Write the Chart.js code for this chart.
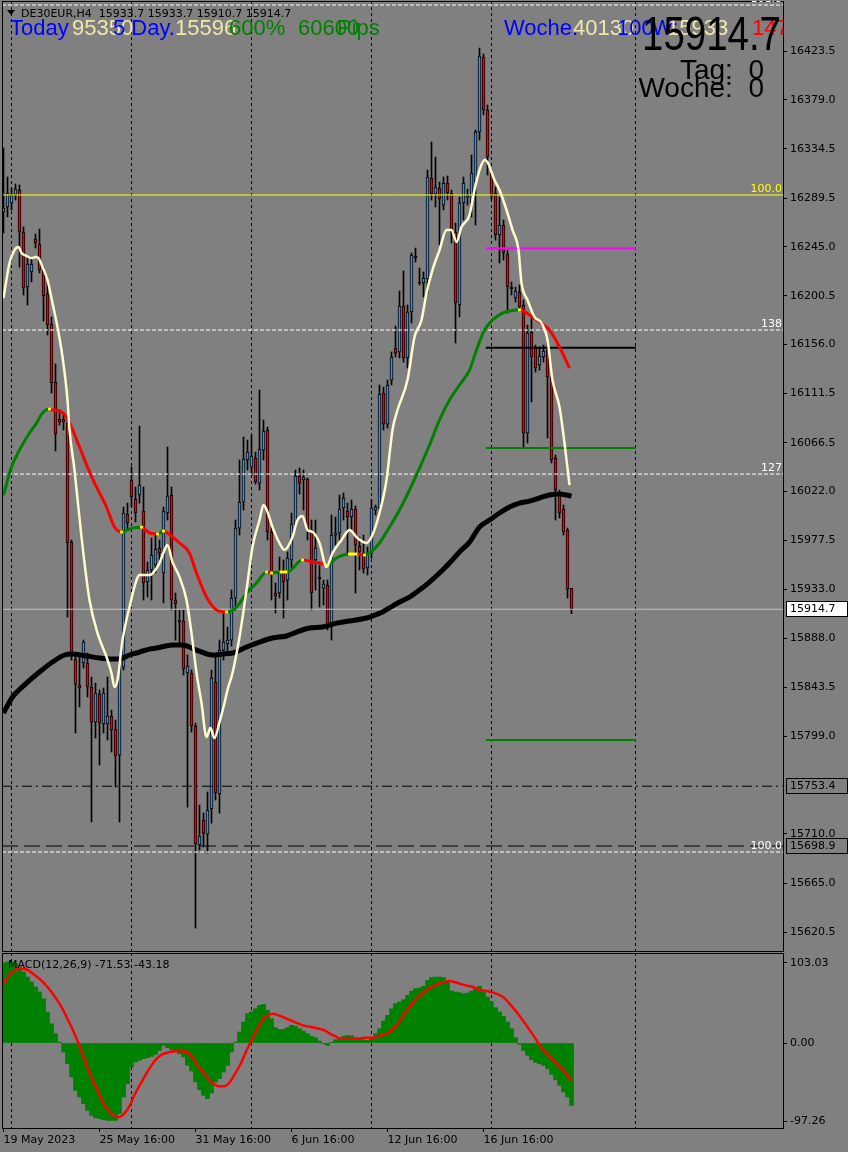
<!DOCTYPE html>
<html>
<head>
<meta charset="utf-8">
<title>DE30EUR,H4</title>
<script src="https://cdn.jsdelivr.net/npm/chart.js@4.4.1/dist/chart.umd.min.js"></script>
<style>
  html, body { margin: 0; padding: 0; background: #808080; }
  #wrap { position: relative; width: 848px; height: 1152px; overflow: hidden; }
  canvas { position: absolute; left: 0; }
  #main { top: 0; }
  #macd { top: 952px; }
</style>
</head>
<body>
<div id="wrap">
  <canvas id="main" width="848" height="952"></canvas>
  <canvas id="macd" width="848" height="200"></canvas>
</div>
<script>
// ---- candles (H4 bars, index 0 = 19 May 16:00) ----
const barOpen = [
  16276.8,16281.3,16285.0,16292.3,16296.8,16258.5,16208.4,16222.1,16252.2,16247.6,
  16223.9,16202.0,16174.7,16121.8,16088.1,16088.1,16084.4,15976.0,15869.3,15845.6,
  15865.7,15865.7,15843.8,15811.8,15837.4,15810.1,15810.1,15817.3,15805.5,15781.8,
  15862.0,16001.5,16032.5,16015.2,16018.8,16004.2,15939.5,15950.5,15955.0,15970.5,
  15947.7,16002.4,16018.8,15923.1,15904.9,15904.0,15856.6,15856.6,15808.2,15699.8,
  15722.6,15709.8,15732.6,15848.3,15746.3,15877.5,15883.0,15886.6,15924.9,15988.7,
  16012.4,16050.7,16044.3,16052.5,16029.7,16059.8,16078.1,15985.1,15929.5,15929.5,
  15950.5,15941.3,15959.6,15992.4,16036.1,16032.5,16033.4,15986.9,15959.6,15944.1,
  15934.0,15936.8,15900.3,15982.3,15984.2,16007.0,16004.2,15998.8,16006.0,15972.3,
  15965.9,15952.3,15965.9,16005.1,16007.0,16111.8,16083.5,16123.6,16152.8,16149.2,
  16191.1,16143.7,16185.6,16236.7,16213.0,16212.1,16215.7,16307.8,16293.2,16298.6,
  16283.1,16303.2,16294.1,16258.5,16192.0,16285.0,16290.4,16285.0,16304.1,16349.7,
  16418.0,16369.7,16312.3,16294.1,16255.8,16264.9,16238.5,16208.4,16198.4,16203.8,
  16192.0,16075.3,16167.4,16152.8,16137.3,16144.6,16151.0,16126.4,16052.5,16020.6,
  16006.0,15986.9,15933.7];
const barHigh = [
  16335.1,16308.7,16298.6,16302.3,16301.4,16263.1,16235.7,16235.7,16256.7,16261.3,
  16226.6,16213.0,16181.1,16138.2,16096.3,16093.6,16089.0,15977.8,15874.8,15874.8,
  15886.6,15874.8,15852.9,15847.4,15841.1,15842.9,15852.9,15822.8,15813.7,15868.4,
  16007.9,16011.5,16044.3,16026.1,16081.7,16026.1,15957.7,15979.6,15984.2,15977.8,
  16007.9,16062.6,16026.1,15929.5,15914.0,15914.0,15873.0,15859.3,15810.9,15736.2,
  15728.9,15748.1,15859.3,15871.2,15886.6,15912.2,15898.5,15932.2,15996.0,16050.7,
  16071.7,16068.9,16073.5,16058.0,16114.5,16087.2,16080.8,15989.6,15938.6,15962.3,
  15959.6,15966.9,16002.4,16041.6,16043.4,16041.6,16034.3,15996.0,15996.0,15955.0,
  15941.3,15941.3,16000.6,15998.8,16018.8,16020.6,16011.5,16014.3,16008.8,15980.5,
  15982.3,15971.4,16014.3,16009.7,16119.1,16117.2,16123.6,16149.2,16172.9,16204.8,
  16223.0,16192.0,16239.4,16243.9,16225.7,16222.1,16315.0,16340.6,16326.9,16304.1,
  16308.7,16309.6,16296.8,16266.7,16290.4,16308.7,16297.7,16328.7,16351.5,16426.2,
  16420.8,16374.3,16315.0,16299.5,16290.4,16269.5,16242.1,16213.0,16208.4,16210.3,
  16196.6,16173.8,16181.1,16155.5,16153.7,16155.5,16157.4,16130.9,16055.3,16023.4,
  16009.7,15988.7,15933.7];
const barLow = [
  16257.6,16272.2,16278.6,16287.7,16226.6,16201.1,16192.0,16213.0,16243.9,16221.2,
  16177.4,16164.7,16111.8,16058.9,16082.6,16078.1,15907.6,15868.4,15801.9,15825.6,
  15861.1,15834.7,15720.8,15797.3,15772.7,15801.9,15795.5,15784.6,15752.7,15720.8,
  15859.3,15986.9,16007.9,15994.2,16011.5,15923.1,15925.8,15923.1,15947.7,15959.6,
  15920.4,15996.0,15914.0,15886.6,15883.9,15854.7,15734.4,15802.8,15624.1,15695.2,
  15698.0,15692.5,15719.8,15740.8,15728.9,15868.4,15873.0,15881.2,15914.0,15982.3,
  16005.1,16041.6,16037.0,16028.8,16023.4,16050.7,15977.8,15923.1,15911.3,15924.9,
  15906.7,15923.1,15950.5,15988.7,16019.7,16005.1,15977.8,15914.0,15932.2,15916.7,
  15918.6,15895.8,15886.6,15973.2,15977.8,15996.0,15964.1,15986.9,15929.5,15950.5,
  15947.7,15945.9,15961.4,16000.6,16003.3,16078.1,16079.9,16119.1,16144.6,16143.7,
  16140.0,16134.6,16175.6,16231.2,16210.3,16199.3,16202.9,16287.7,16281.3,16246.7,
  16278.6,16287.7,16248.5,16157.4,16181.1,16269.5,16283.1,16272.2,16264.9,16342.4,
  16365.2,16310.5,16287.7,16251.2,16230.3,16233.0,16184.7,16201.1,16194.7,16187.4,
  16062.6,16066.2,16103.6,16130.9,16132.7,16140.0,16070.8,16048.0,15996.0,15997.8,
  15982.3,15924.9,15910.7];
const barClose = [
  16280.4,16294.1,16292.3,16297.7,16258.5,16207.5,16229.4,16229.4,16248.5,16223.9,
  16200.2,16173.8,16120.9,16074.4,16085.3,16085.3,15975.1,15874.8,15846.5,15842.9,
  15884.8,15843.8,15811.8,15838.3,15810.9,15838.3,15817.3,15804.6,15780.9,15862.0,
  16002.4,15993.3,16017.0,16002.4,16027.9,15938.6,15950.5,15964.1,15969.6,15965.9,
  16004.2,16017.9,15923.1,15919.5,15903.0,15860.2,15863.0,15808.2,15700.7,15708.0,
  15710.7,15731.7,15852.0,15747.2,15877.5,15884.8,15886.6,15924.9,15988.7,16012.4,
  16051.6,16058.0,16054.4,16030.7,16060.7,16077.1,15985.1,15947.7,15926.7,15947.7,
  15939.5,15961.4,15992.4,16036.1,16029.7,16035.2,15986.9,15929.5,15970.5,15942.3,
  15937.7,15900.3,15982.3,15984.2,16006.0,16016.1,15998.8,16006.0,15973.2,15966.9,
  15951.4,15965.9,16007.0,16007.9,16110.9,16083.5,16119.1,16144.6,16148.2,16191.1,
  16143.7,16185.6,16237.6,16234.8,16212.1,16216.6,16308.7,16293.2,16299.5,16288.6,
  16303.2,16294.1,16258.5,16193.8,16285.0,16303.2,16292.3,16312.3,16349.7,16419.0,
  16369.7,16326.9,16291.3,16255.8,16264.9,16239.4,16208.4,16206.6,16204.8,16190.2,
  16075.3,16166.5,16144.6,16134.6,16145.5,16150.1,16126.4,16050.7,16023.4,16002.4,
  15985.1,15933.1,15914.7];

// ---- moving averages (bar position, price) ----
const fastMaBar = [0,1.5,2.75,3.75,4.5,5.75,7,8,8.75,9.75,11,12.25,13.5,14.75,16,16.5,17.75,19.5,21.5,23.5,
  25.75,27,27.75,28.5,29.75,31.5,33.25,34,36.5,39,40.25,41,42.25,44,45.75,47,48.25,49.5,50.75,51.75,
  52.75,54,55.25,56,57.25,59,60.75,62.25,64,65,66,67.25,69,70.25,72.25,73.5,74.75,76,77.25,79,
  80.75,82.25,84.5,86.5,88.5,90.75,92,94,95.75,97.25,98.5,101,102.75,104.5,105.75,107.25,109,110.75,112,113.25,
  114.5,116.5,117.75,119,120.25,121,122.75,124,125.75,127.25,128.75,129.5,131,132.75,134.5,136,137.25,139,140.25,141.5];
const fastMaPrice = [16198.4,16230.3,16242.1,16244.9,16239.4,16236.7,16234.8,16235.7,16234.8,16226.6,
  16214.8,16193.8,16171.9,16144.6,16105.4,16078.1,16041.6,15980.5,15923.1,15893.0,
  15871.2,15856.6,15843.8,15850.2,15886.6,15916.7,15941.3,15945.9,15945.9,15956.8,
  15968.7,15973.2,15957.7,15944.1,15923.1,15893.0,15856.6,15829.2,15798.2,15806.4,
  15797.3,15811.8,15829.2,15841.1,15856.6,15889.4,15932.2,15971.4,15996.0,16009.7,
  16003.3,15989.6,15975.1,15968.7,15980.5,15996.0,15999.7,15986.9,15985.1,15975.1,
  15953.2,15965.9,15977.8,15986.9,15979.6,15975.1,15980.5,16002.4,16032.5,16078.1,
  16096.3,16123.6,16162.8,16178.3,16202.9,16223.9,16242.1,16260.4,16260.4,16249.4,
  16263.1,16274.0,16296.8,16315.0,16324.2,16322.3,16305.9,16296.8,16278.6,16260.4,
  16242.1,16212.1,16196.6,16181.1,16175.6,16160.1,16123.6,16099.0,16066.2,16027.9];

const midMaBar = [0,2,4,6.5,8.25,9.75,11.5,12.25,14,15.75,17,19,21,23.25,25.75,27.75,29.5,32.25,34.5,36.5,
  38.5,40,41,44,46.5,48.25,50.75,53.25,55.75,58.25,60.75,63.25,65.75,67,69,71,74.75,77.25,79,81,
  83.25,86.5,88.5,90.25,91.5,94,96.5,99,101.5,104,106.5,109,111.5,114,116.5,118.25,120.25,122.25,124.75,127.25,
  129,131.5,134,136.5,139,141.5];
const midMaPrice = [16018.8,16044.3,16059.8,16075.3,16084.4,16093.6,16097.2,16096.3,16095.4,16089.9,
  16080.8,16062.6,16044.3,16026.1,16007.9,15989.6,15985.1,15988.7,15989.5,15984.2,
  15983.3,15986.0,15984.2,15975.1,15965.9,15947.7,15925.8,15914.0,15912.2,15916.7,
  15929.5,15938.6,15948.6,15947.7,15948.6,15948.8,15959.6,15957.7,15956.8,15955.0,
  15961.4,15965.0,15965.0,15964.1,15965.9,15975.1,15989.6,16005.1,16023.4,16043.4,
  16064.4,16087.2,16105.4,16119.1,16132.7,16151.0,16169.2,16178.3,16184.7,16187.0,
  16187.6,16182.9,16176.5,16169.2,16153.7,16134.6];

const slowMaBar = [0,2.25,5.75,9,12.25,15.25,17,20.75,24,27.25,29,31.5,34,36.5,38.25,42.25,44.75,48.25,52.25,54.75,
  57.25,60.75,64,67.25,70.75,73.25,76.5,79.75,83.25,86.5,90.75,92.25,94.75,97.25,99,101.5,104,106.5,109,111.5,
  114,116.5,119,121.5,124,126.5,129,131.5,134,136.5,139,140.75,142];
const slowMaPrice = [15820.1,15834.7,15847.4,15857.5,15866.6,15873.0,15873.9,15872.1,15870.2,15869.3,
  15869.3,15873.0,15875.7,15878.4,15879.3,15882.1,15882.1,15877.5,15873.0,15873.9,
  15874.8,15880.3,15884.8,15888.5,15890.3,15893.9,15897.6,15898.5,15902.1,15904.0,
  15906.7,15908.5,15912.2,15917.6,15921.3,15925.8,15932.2,15939.5,15947.7,15956.8,
  15966.9,15975.9,15989.6,15996.0,16002.4,16007.9,16011.5,16013.3,16016.1,16018.8,
  16019.7,16018.8,16017.9];

// ---- horizontal levels ----
const fibLevelPrices = [16465.4, 16292.3, 16169.2, 16037.9, 15693.4];
const fibLevelLabels = ['161.8', '100.0', '138', '127', '100.0'];
const bidPrice = 15914.7;
const dashDotPrice = 15753.4;
const dashPrice = 15698.9;
const targetPrices = [16243.7, 16153.1, 16061.7, 15795.5];
const targetFromBar = 120.6, targetToBar = 158.1;

// ---- axes ----
const priceTicks = [16423.5,16379.0,16334.5,16289.5,16245.0,16200.5,16156.0,16111.5,16066.5,
  16022.0,15977.5,15933.0,15888.0,15843.5,15799.0,15710.0,15665.0,15620.5];
const timeTickBars = [0, 24, 48, 72, 96, 120];
const timeTickLabels = ['19 May 2023', '25 May 16:00', '31 May 16:00', '6 Jun 16:00', '12 Jun 16:00', '16 Jun 16:00'];
const weekGridBars = [2, 32, 62, 92, 122, 158];

// ---- MACD(12,26,9) ----
const macdHist = [91.6,92.7,92.7,90.8,87.0,81.3,75.5,69.8,64.1,58.4,
  50.7,35.5,22.1,10.7,1.1,-10.3,-23.7,-38.9,-54.2,-61.8,
  -69.4,-77.1,-82.8,-85.5,-86.6,-87.7,-88.5,-88.5,-88.5,-80.9,
  -61.8,-46.5,-27.5,-21.7,-19.8,-17.9,-16.8,-15.3,-13.0,-8.4,
  -2.7,-5.3,-7.6,-9.2,-12.2,-16.0,-25.6,-32.0,-44.6,-53.4,
  -59.9,-63.7,-57.2,-44.6,-40.8,-33.2,-25.6,-10.3,1.1,12.6,
  24.0,33.6,35.5,39.3,43.1,44.3,37.4,27.8,17.5,15.3,
  15.6,17.5,20.2,19.1,16.4,13.7,10.7,7.6,6.1,2.3,
  -0.8,-2.7,0.8,3.8,6.1,7.6,8.8,8.4,6.1,5.0,
  3.8,3.1,4.6,10.7,16.4,25.2,31.7,39.3,45.0,46.9,
  49.6,54.6,59.5,62.2,62.9,64.9,71.7,74.8,75.5,75.5,
  74.8,69.8,59.5,58.4,57.6,56.5,57.2,59.5,63.3,64.9,
  58.4,52.6,46.9,40.4,35.5,30.5,24.0,16.4,6.1,-1.5,
  -8.4,-14.1,-19.1,-22.1,-23.7,-25.6,-29.4,-35.9,-42.0,-48.4,
  -56.1,-61.8,-71.53];
const macdSigBar = [0,1.8,3.9,5.9,7.9,9.9,12.0,14.0,16.0,18.1,19.4,20.8,22.1,23.5,24.8,26.2,27.5,28.9,30.2,31.6,
  32.9,34.3,35.6,37.0,38.3,39.7,41.7,43.7,45.8,47.1,48.5,49.8,51.2,52.5,53.9,55.2,56.6,57.9,59.3,60.6,
  62.0,63.3,64.7,66.1,67.4,68.8,70.8,72.8,74.8,76.9,78.9,80.3,81.6,83.0,84.3,86.3,88.4,90.4,92.4,94.5,
  96.5,97.8,99.2,100.5,101.9,103.2,104.6,105.9,107.3,109.3,111.4,112.7,114.1,115.4,117.4,118.8,120.8,122.8,124.9,126.9,
  128.9,131.0,133.0,134.3,136.3,138.4,140.4,142];
const macdSigVal = [67.9,79.4,85.1,83.9,77.4,69.8,58.4,45.0,27.8,6.9,-8.4,-25.6,-40.8,-54.2,-67.5,-77.1,-82.8,-84.7,-80.9,-71.3,
  -58.0,-46.5,-35.9,-25.6,-17.9,-13.0,-10.3,-9.2,-10.3,-16.0,-25.6,-33.2,-40.8,-46.5,-49.6,-49.6,-44.6,-35.1,-23.7,-10.3,
  3.1,14.5,25.9,31.7,33.6,31.7,27.8,24.0,20.2,18.3,16.4,14.5,10.7,7.6,5.0,5.0,5.0,6.1,6.1,8.8,
  12.6,18.3,25.9,35.5,43.1,50.7,56.5,61.0,64.9,68.7,71.0,69.8,67.9,66.0,64.1,61.0,59.5,57.2,52.6,43.1,
  31.7,18.3,5.0,-4.6,-14.1,-23.7,-33.2,-43.18];
const macdMin = -97.26, macdMax = 103.03;
const macdTickPos = [-89.3, 0, 91.6];
const macdTickLabels = ['-97.26', '0.00', '103.03'];

// ---- view range ----
const X_MIN = -0.375, X_MAX = 194.875;
const Y_MIN = 15603.2, Y_MAX = 16469.1;

const BULL = '#3C8FE0', BEAR = '#F00000';
const FONT = 'DejaVu Sans';
const last = barClose.length - 1;

const pts = (xs, ys) => xs.map((x, i) => ({ x: x, y: ys[i] }));
const hline = (p, x0, x1, color, width, dash, order) => ({
  type: 'line', data: [{ x: x0, y: p }, { x: x1, y: p }],
  borderColor: color, borderWidth: width, borderDash: dash || [],
  pointRadius: 0, fill: false, order: order
});
// fixed axis size, no automatic label padding
const fitTo = (w, h) => s => {
  if (w !== null) s.width = w;
  if (h !== null) s.height = h;
  s.paddingLeft = s.paddingRight = s.paddingTop = s.paddingBottom = 0;
};
// yellow mark where the middle average turns
const turnRadius = c => {
  const i = c.dataIndex, v = midMaPrice;
  if (i <= 0 || i >= v.length - 1) return 0;
  return (v[i] - v[i - 1] > 0) !== (v[i + 1] - v[i] > 0) ? 2 : 0;
};

Chart.defaults.font.family = FONT;
Chart.defaults.font.size = 11;
Chart.defaults.color = '#000';

const mainText = {
  id: 'mainText',
  afterDraw(chart) {
    const { ctx, chartArea: a, scales: { y } } = chart;
    ctx.save();
    ctx.strokeStyle = '#000';
    ctx.lineWidth = 1;
    ctx.strokeRect(a.left + 0.5, a.top + 0.5, a.width, a.height);

    // price boxes on the scale
    const box = (p, fill, txt) => {
      const py = Math.round(y.getPixelForValue(p));
      ctx.fillStyle = fill;
      ctx.fillRect(a.right + 3, py - 8, 848 - a.right - 3, 16);
      ctx.strokeStyle = '#000';
      ctx.strokeRect(a.right + 3.5, py - 7.5, 848 - a.right - 4, 15);
      ctx.fillStyle = txt;
      ctx.font = '11px "' + FONT + '"';
      ctx.textAlign = 'left';
      ctx.textBaseline = 'middle';
      ctx.fillText(p.toFixed(1), 790, py + 0.5);
    };
    box(bidPrice, '#FFFFFF', '#000');
    box(dashDotPrice, '#808080', '#000');
    box(dashPrice, '#808080', '#000');
    ctx.restore();

    ctx.save();
    ctx.beginPath();
    ctx.rect(a.left, a.top, a.width, a.height);
    ctx.clip();

    // fib labels
    ctx.font = '11px "' + FONT + '"';
    ctx.textAlign = 'right';
    ctx.textBaseline = 'alphabetic';
    fibLevelPrices.forEach((p, i) => {
      ctx.fillStyle = i === 1 ? '#FFFF00' : '#FFFFFF';
      ctx.fillText(fibLevelLabels[i], a.right - 1, y.getPixelForValue(p) - 3);
    });

    // header
    ctx.textAlign = 'left';
    ctx.fillStyle = '#000';
    ctx.beginPath();
    ctx.moveTo(7, 10); ctx.lineTo(15, 10); ctx.lineTo(11, 15); ctx.closePath(); ctx.fill();
    ctx.fillText('DE30EUR,H4  ' + [barOpen[last], barHigh[last], barLow[last], barClose[last]]
      .map(v => v.toFixed(1)).join(' '), 21, 17);

    // info texts
    ctx.font = '22px "Liberation Sans"';
    const put = (t, x, c) => { ctx.fillStyle = c; ctx.fillText(t, x, 35); };
    put('Today', 10, '#0000FF');
    put('95350', 72, '#EEE8AA');
    put('5 Day.', 113, '#0000FF');
    put('15596', 175, '#EEE8AA');
    put('600%', 229, '#008000');
    put('60600', 298, '#008000');
    put('Pips', 337, '#008000');
    put('Woche.', 504, '#0000FF');
    put('40130', 573, '#EEE8AA');
    put('100', 617, '#0000FF');
    put('W:', 652, '#0000FF');
    put('15933', 667, '#EEE8AA');
    put('147', 752, '#FF0000');

    ctx.fillStyle = '#000';
    ctx.font = '48px "Liberation Sans"';
    const big = barClose[last].toFixed(1);
    const w = ctx.measureText(big).width;
    ctx.save();
    ctx.translate(642, 50);
    ctx.scale(139 / w, 1);
    ctx.fillText(big, 0, 0);
    ctx.restore();

    ctx.font = '28px "Liberation Sans"';
    ctx.textAlign = 'right';
    ctx.fillText('Tag:  0', 764, 79);
    ctx.fillText('Woche:  0', 764, 97);
    ctx.restore();
  }
};

new Chart(document.getElementById('main'), {
  type: 'bar',
  data: {
    datasets: [
      { type: 'line', data: pts(fastMaBar, fastMaPrice), borderColor: '#FFFACD', borderWidth: 2.5,
        pointRadius: 0, cubicInterpolationMode: 'monotone', order: 1 },
      { type: 'line', data: pts(midMaBar, midMaPrice), borderColor: '#008000', borderWidth: 3,
        cubicInterpolationMode: 'monotone', order: 2,
        pointRadius: turnRadius, pointStyle: 'rect', pointBackgroundColor: '#FFFF00', pointBorderWidth: 0,
        segment: { borderColor: c => {
          const d = c.p1.parsed.y - c.p0.parsed.y;
          return d > 0.5 ? '#008000' : (d < -0.5 ? '#FF0000' : '#FFFF00');
        } } },
      { type: 'line', data: pts(slowMaBar, slowMaPrice), borderColor: '#000', borderWidth: 5,
        pointRadius: 0, cubicInterpolationMode: 'monotone', order: 3 },

      hline(fibLevelPrices[0], X_MIN, X_MAX, '#FFFFFF', 1, [4, 2], 6),
      hline(fibLevelPrices[1], X_MIN, X_MAX, '#FFFF00', 1, [], 6),
      hline(fibLevelPrices[2], X_MIN, X_MAX, '#FFFFFF', 1, [4, 2], 6),
      hline(fibLevelPrices[3], X_MIN, X_MAX, '#FFFFFF', 1, [4, 2], 6),
      hline(fibLevelPrices[4], X_MIN, X_MAX, '#FFFFFF', 1, [4, 2], 6),
      hline(bidPrice, X_MIN, X_MAX, '#C0C0C0', 1, [], 6),
      hline(dashDotPrice, X_MIN, X_MAX, '#000', 1, [10, 4, 2, 4], 6),
      hline(dashPrice, X_MIN, X_MAX, '#000', 1, [16, 6], 6),
      hline(targetPrices[0], targetFromBar, targetToBar, '#FF00FF', 2, [], 5),
      hline(targetPrices[1], targetFromBar, targetToBar, '#000', 2, [], 5),
      hline(targetPrices[2], targetFromBar, targetToBar, '#008000', 2, [], 5),
      hline(targetPrices[3], targetFromBar, targetToBar, '#008000', 2, [], 5),

      { data: barLow.map((l, i) => ({ x: i, y: [l, barHigh[i]] })), backgroundColor: '#000',
        borderWidth: 0, barThickness: 1, grouped: false, order: 20 },
      { data: barOpen.map((o, i) => ({ x: i, y: [o, barClose[i]] })),
        backgroundColor: c => barClose[c.dataIndex] > barOpen[c.dataIndex] ? BULL : BEAR,
        borderColor: '#000', borderWidth: 1, borderSkipped: false, barThickness: 3,
        minBarLength: 1, grouped: false, order: 19 }
    ]
  },
  options: {
    responsive: false, animation: false, devicePixelRatio: 1, events: [],
    layout: { padding: { left: 2, top: 1, right: 0, bottom: 1 } },
    plugins: { legend: { display: false }, tooltip: { enabled: false } },
    scales: {
      x: {
        type: 'linear', min: X_MIN, max: X_MAX, position: 'bottom', offset: false,
        afterBuildTicks: s => { s.ticks = weekGridBars.map(v => ({ value: v })); },
        afterFit: fitTo(null, 0),
        ticks: { display: false },
        grid: { color: '#000', lineWidth: 1, drawTicks: false, offset: false },
        border: { display: false, dash: [3, 3] }
      },
      y: {
        position: 'right', min: Y_MIN, max: Y_MAX,
        afterBuildTicks: s => { s.ticks = priceTicks.map(v => ({ value: v })); },
        afterFit: fitTo(65, null),
        ticks: { color: '#000', padding: 3, autoSkip: false, callback: v => v.toFixed(1) },
        grid: { drawOnChartArea: false, drawTicks: true, tickLength: 4, color: '#000' },
        border: { display: true, color: '#000' }
      }
    }
  },
  plugins: [mainText]
});

const macdText = {
  id: 'macdText',
  afterDraw(chart) {
    const { ctx, chartArea: a } = chart;
    ctx.save();
    ctx.strokeStyle = '#000';
    ctx.lineWidth = 1;
    ctx.strokeRect(a.left + 0.5, a.top + 0.5, a.width, a.height);
    ctx.fillStyle = '#000';
    ctx.font = '11px "' + FONT + '"';
    ctx.textAlign = 'left';
    ctx.fillText('MACD(12,26,9) ' + macdHist[last].toFixed(2) + ' ' +
      macdSigVal[macdSigVal.length - 1].toFixed(2), 8, 16);
    ctx.restore();
  }
};

new Chart(document.getElementById('macd'), {
  type: 'bar',
  data: {
    datasets: [
      { type: 'line', data: pts(macdSigBar, macdSigVal), borderColor: '#FF0000', borderWidth: 2.5,
        pointRadius: 0, cubicInterpolationMode: 'monotone', order: 1 },
      { data: macdHist.map((v, i) => ({ x: i, y: v })), backgroundColor: '#008000',
        borderWidth: 0, barThickness: 4, grouped: false, order: 2 }
    ]
  },
  options: {
    responsive: false, animation: false, devicePixelRatio: 1, events: [],
    layout: { padding: { left: 2, top: 1, right: 0, bottom: 0 } },
    plugins: { legend: { display: false }, tooltip: { enabled: false } },
    scales: {
      x: {
        type: 'linear', min: X_MIN, max: X_MAX, position: 'bottom', offset: false,
        afterBuildTicks: s => { s.ticks = timeTickBars.map(v => ({ value: v })); },
        afterFit: fitTo(null, 24),
        ticks: { autoSkip: false, maxRotation: 0, minRotation: 0, align: 'start', padding: 2,
                 color: '#000', callback: (v, i) => timeTickLabels[i] },
        grid: { drawOnChartArea: false, drawTicks: true, tickLength: 4, color: '#000', offset: false },
        border: { display: false }
      },
      xg: {
        type: 'linear', axis: 'x', min: X_MIN, max: X_MAX, position: 'bottom', offset: false,
        afterBuildTicks: s => { s.ticks = weekGridBars.map(v => ({ value: v })); },
        afterFit: fitTo(null, 0),
        ticks: { display: false },
        grid: { color: '#000', lineWidth: 1, drawTicks: false, offset: false },
        border: { display: false, dash: [3, 3] }
      },
      y: {
        position: 'right', min: macdMin, max: macdMax,
        afterBuildTicks: s => { s.ticks = macdTickPos.map(v => ({ value: v })); },
        afterFit: fitTo(65, null),
        ticks: { color: '#000', padding: 3, autoSkip: false, callback: (v, i) => macdTickLabels[i] },
        grid: { drawOnChartArea: false, drawTicks: true, tickLength: 4, color: '#000' },
        border: { display: true, color: '#000' }
      }
    }
  },
  plugins: [macdText]
});
</script>
</body>
</html>
